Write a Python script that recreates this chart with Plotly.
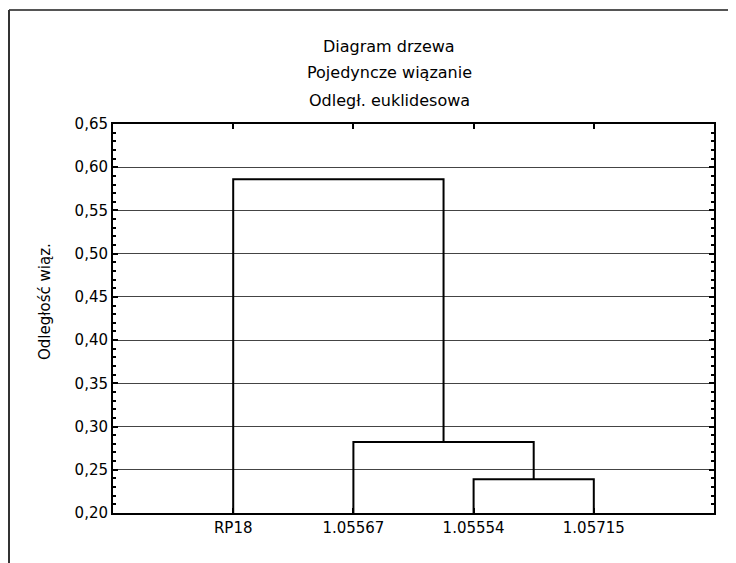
import plotly.graph_objects as go

# Data
leaf_labels = ["RP18", "1.05567", "1.05554", "1.05715"]
# merges: (left node, right node, linkage distance); nodes 0..3 leaves, 4.. clusters
merge_left = [2, 1, 0]
merge_right = [3, 4, 5]
merge_height = [0.239, 0.282, 0.586]
y_ticks = [0.20, 0.25, 0.30, 0.35, 0.40, 0.45, 0.50, 0.55, 0.60, 0.65]
y_base = 0.20

# node positions / heights
pos = {i: i + 1 for i in range(len(leaf_labels))}
hgt = {i: y_base for i in range(len(leaf_labels))}
xs, ys = [], []
for k, (a, b, h) in enumerate(zip(merge_left, merge_right, merge_height)):
    node = len(leaf_labels) + k
    xs += [pos[a], pos[a], pos[b], pos[b], None]
    ys += [hgt[a], h, h, hgt[b], None]
    pos[node] = (pos[a] + pos[b]) / 2
    hgt[node] = h

fig = go.Figure()
fig.add_trace(go.Scatter(x=xs, y=ys, mode="lines",
                         line=dict(color="black", width=2),
                         hoverinfo="skip", showlegend=False))

font = "DejaVu Sans, sans-serif"
# page body has an 8px margin; figure coordinates = screen - 8
W, H = 728, 555
L, R, T, B = 105, 22, 116, 50
pw, ph = W - L - R, H - T - B

fig.update_layout(
    width=W, height=H,
    margin=dict(l=L, r=R, t=T, b=B),
    paper_bgcolor="white", plot_bgcolor="white",
    separators=", ",
    font=dict(family=font, size=15, color="black"),
    showlegend=False,
)
fig.update_xaxes(
    range=[0, len(leaf_labels) + 1],
    tickvals=list(range(1, len(leaf_labels) + 1)),
    ticktext=leaf_labels,
    showgrid=False, zeroline=False,
    showline=True, linecolor="black", linewidth=2, mirror="allticks",
    ticks="inside", ticklen=5, tickcolor="black", tickwidth=2,
    tickfont=dict(family=font, size=15, color="black"),
)
fig.update_yaxes(
    range=[0.20, 0.65],
    tickvals=y_ticks,
    tickformat=".2f",
    showgrid=True, gridcolor="#444444", gridwidth=1,
    zeroline=False,
    showline=True, linecolor="black", linewidth=2, mirror="allticks",
    ticks="inside", ticklen=5, tickcolor="black", tickwidth=2,
    minor=dict(dtick=0.01, tick0=0.2, ticks="inside", ticklen=3,
               tickcolor="black", tickwidth=2, showgrid=False),
    tickfont=dict(family=font, size=15, color="black"),
)

# Title lines (figure pixels)
title_cx = 381
for txt, ypx in [("Diagram drzewa", 39), ("Pojedyncze wiązanie", 65), ("Odległ. euklidesowa", 92)]:
    fig.add_annotation(text=txt, xref="paper", yref="paper",
                       x=(title_cx - L) / pw, y=(H - B - ypx) / ph, showarrow=False,
                       xanchor="center", yanchor="middle",
                       font=dict(family=font, size=16, color="black"))

# Y axis title
fig.add_annotation(text="Odległość wiąz.", xref="paper", yref="paper",
                   x=(37 - L) / pw, y=(H - B - 294) / ph, textangle=-90,
                   showarrow=False, xanchor="center", yanchor="middle",
                   font=dict(family=font, size=15, color="black"))

# Outer frame (top and left)
x0 = (1 - L) / pw
y0 = (H - B - 2) / ph
fig.add_shape(type="line", xref="paper", yref="paper",
              x0=x0, y0=y0, x1=(W - L) / pw, y1=y0,
              line=dict(color="#555555", width=2))
fig.add_shape(type="line", xref="paper", yref="paper",
              x0=x0, y0=y0, x1=x0, y1=(H - B - H) / ph,
              line=dict(color="#333333", width=2))

fig.write_html("out.html")
